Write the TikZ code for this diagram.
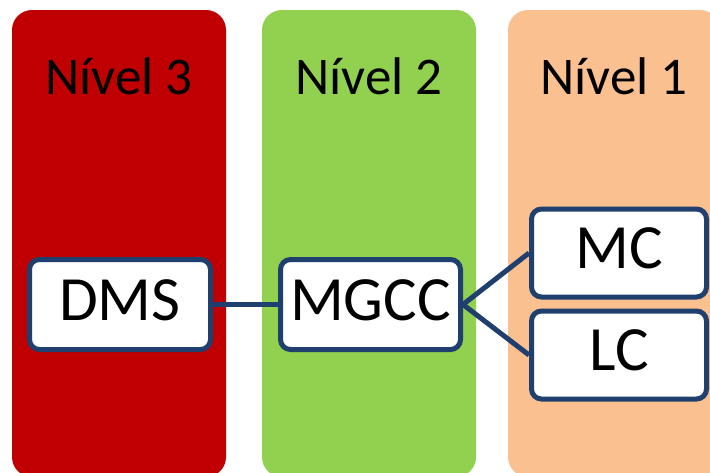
\documentclass[tikz,border=0pt]{standalone}
\usepackage{fontspec}
\setmainfont{Carlito}
\definecolor{lvlred}{HTML}{C00000}
\definecolor{lvlgreen}{HTML}{92D050}
\definecolor{lvlpeach}{HTML}{FAC090}
\definecolor{edgeblue}{HTML}{1F3F6F}
\tikzset{
  column/.style={rounded corners=20pt},
  title/.style={anchor=base, font=\fontsize{53}{63}\selectfont, text=black, inner sep=0pt},
  unit/.style={draw=edgeblue, line width=5pt, fill=white, rounded corners=10pt,
    font=\fontsize{63}{75}\selectfont, text=black, inner sep=0pt,
    text height=40pt, text depth=9pt},
  link/.style={draw=edgeblue, line width=5pt}
}
\begin{document}
\begin{tikzpicture}[x=1pt,y=-1pt]
\useasboundingbox (0,0) rectangle (710,472);
% the three level columns
\begin{scope}
  \clip (0,0) rectangle (710,472);
  \fill[column, lvlred]   (12,10)  rectangle (226,477);
  \fill[column, lvlgreen] (262,10) rectangle (476,477);
  \fill[column, lvlpeach] (508,10) rectangle (720,477);
\end{scope}
% level titles
\node[title] (t3) at (119,94) {Nível 3};
\node[title] (t2) at (369,94) {Nível 2};
\node[title] (t1) at (614,94) {Nível 1};
% controllers
\node[unit, minimum width=181pt, minimum height=90pt] (dms)  at (120,304.5) {DMS};
\node[unit, minimum width=180pt, minimum height=90pt] (mgcc) at (370.5,304.5) {MGCC};
\node[unit, minimum width=175pt, minimum height=88pt] (mc)   at (619,253) {MC};
\node[unit, minimum width=175pt, minimum height=88pt] (lc)   at (619,355) {LC};
% links between levels
\draw[link] (dms.east) -- (mgcc.west);
\draw[link] (mgcc.east) -- (mc.west);
\draw[link] (mgcc.east) -- (lc.west);
\end{tikzpicture}
\end{document}
